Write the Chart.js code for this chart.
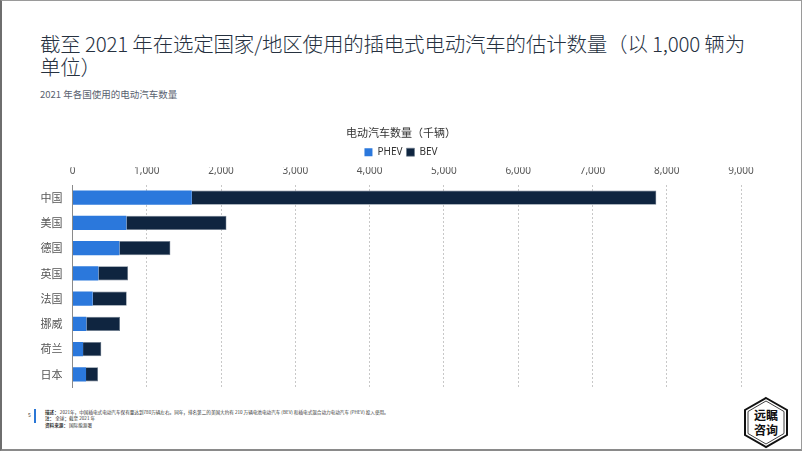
<!DOCTYPE html>
<html><head><meta charset="utf-8">
<script src="https://cdn.jsdelivr.net/npm/chart.js@4"></script>
<style>
html,body{margin:0;padding:0;background:#fff;}
body{width:802px;height:451px;position:relative;overflow:hidden;font-family:"Noto Sans CJK SC","Noto Sans",sans-serif;}
#frame{position:absolute;left:0;top:0;width:802px;height:451px;box-sizing:border-box;border:1px solid #9a9a9a;border-left:2px solid #6e6e6e;border-bottom:2px solid #8a8a8a;pointer-events:none;z-index:5;}
#title{position:absolute;left:40px;top:32px;font-size:20.5px;line-height:23px;color:#26313f;font-weight:300;letter-spacing:-0.2px;}
#sub{position:absolute;left:40px;top:87px;font-size:9.5px;color:#5a6270;}
#wrap{position:absolute;left:0;top:120px;width:802px;height:270px;}
#foot{position:absolute;left:45px;top:409px;font-size:4.6px;line-height:6.3px;color:#333;}
#foot b{font-weight:700;}
#bar{position:absolute;left:34px;top:409px;width:2px;height:14px;background:#2a77d6;}
#pg{position:absolute;left:28px;top:411px;font-size:5px;color:#333;}
#logo{position:absolute;left:743px;top:396px;}
</style></head>
<body>
<div id="frame"></div>
<div id="title">截至 2021 年在选定国家/地区使用的插电式电动汽车的估计数量（以 1,000 辆为<br>单位）</div>
<div id="sub">2021 年各国使用的电动汽车数量</div>
<div id="wrap"><canvas id="c"></canvas></div>
<div id="pg">5</div><div id="bar"></div>
<div id="foot"><b>描述：</b> 2021年，中国插电式电动汽车保有量达到780万辆左右。同年，排名第二的美国大约有 210 万辆电池电动汽车 (BEV) 和插电式混合动力电动汽车 (PHEV) 投入使用。<br><b>注：</b> 全球；截至 2021 年<br><b>资料来源：</b> 国际能源署</div>
<svg id="logo" width="46" height="53" viewBox="0 0 46 53">
<polygon points="23,2 44,14 44,39 23,51 2,39 2,14" fill="#fff" stroke="#111" stroke-width="2"/>
<polygon points="23,5 41,15.5 41,37.5 23,48 5,37.5 5,15.5" fill="none" stroke="#111" stroke-width="0.8"/>
<text x="23" y="24" text-anchor="middle" font-size="12" font-weight="700" font-family="Noto Sans CJK SC" fill="#111">远瞩</text>
<text x="23" y="39" text-anchor="middle" font-size="12" font-weight="700" font-family="Noto Sans CJK SC" fill="#111">咨询</text>
</svg>
<script>
const categories = ["中国","美国","德国","英国","法国","挪威","荷兰","日本"];
const phevValues = [1606, 725, 631, 348, 272, 186, 142, 182];
const bevValues  = [6254, 1348, 687, 400, 458, 454, 246, 162];
const seriesNames = ["PHEV","BEV"];
const axisTitle = "电动汽车数量（千辆）";
const xTickValues = [0,1000,2000,3000,4000,5000,6000,7000,8000,9000];

const chart = new Chart(document.getElementById('c'), {
  type: 'bar',
  data: {
    labels: categories,
    datasets: [
      {label: seriesNames[0], data: phevValues, backgroundColor: '#2b78dc', barPercentage: 0.56, categoryPercentage: 1},
      {label: seriesNames[1], data: bevValues, backgroundColor: '#0f2540', borderColor:'#6b7a8a', borderWidth: 0.6, borderSkipped: 'start', barPercentage: 0.56, categoryPercentage: 1}
    ]
  },
  options: {
    indexAxis: 'y',
    responsive: true,
    maintainAspectRatio: false,
    animation: false,
    layout: {padding: {left: 0, right: 0, top: 0, bottom: 3}},
    plugins: {
      title: {display: true, text: axisTitle, color: '#333', font: {size: 11, weight: 'normal', family: '"Noto Sans CJK SC"'}, padding: {top: 6, bottom: 4}},
      legend: {display: true, position: 'top', labels: {boxWidth: 8, boxHeight: 8, padding: 4, color: '#333', font: {size: 10, family: '"Noto Sans","Noto Sans CJK SC"'}}},
      tooltip: {enabled: false}
    },
    scales: {
      x: {
        position: 'top', stacked: true, min: 0, max: 9000,
        afterBuildTicks: s => { s.ticks = xTickValues.map(v => ({value: v})); },
        afterFit: s => { s.height = 17.8; },
        ticks: {padding: 8, color: '#555', font: {size: 10, family: '"Noto Sans"'}, callback: v => v.toLocaleString('en-US')},
        grid: {drawTicks: false, color: '#c8c8c8', lineWidth: 1},
        border: {display: false, dash: [2,2]}
      },
      y: {
        stacked: true, offset: true,
        afterFit: s => { s.width = 72.5; s.paddingTop = 0; s.paddingBottom = 0; },
        ticks: {padding: 10, color: '#555', font: {size: 11, family: '"Noto Sans CJK SC"'}},
        grid: {display: false, drawTicks: false},
        border: {display: true, color: '#8a8a8a', width: 1}
      },
      y2: {
        type: 'category', labels: categories, position: 'right', display: true, offset: true,
        afterFit: s => { s.width = 61; s.paddingTop = 0; s.paddingBottom = 0; },
        ticks: {display: false}, grid: {display: false, drawTicks: false}, border: {display: false}
      }
    }
  }
});
</script>
</body></html>
